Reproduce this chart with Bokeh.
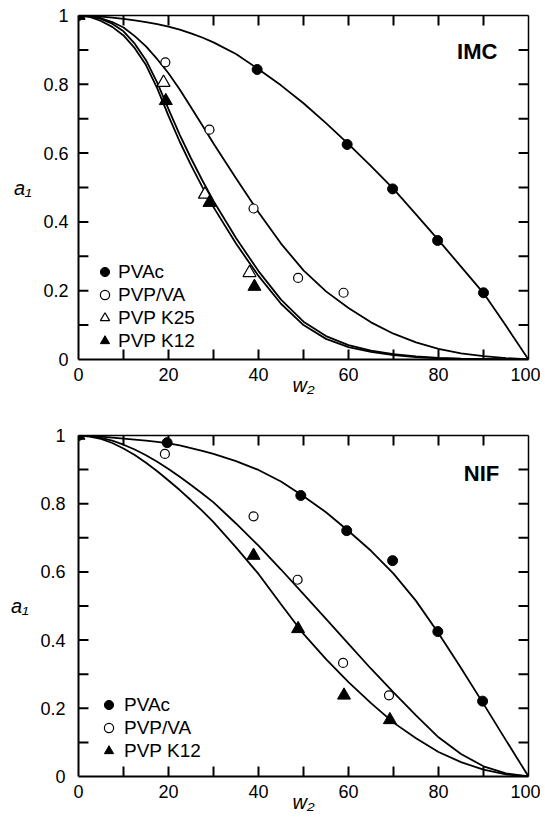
from bokeh.plotting import figure
from bokeh.models import (LinearAxis, SingleIntervalTicker, NumeralTickFormatter, Range1d,
                          Legend, LegendItem, Label, CustomJSTickFormatter)
from bokeh.layouts import column
from bokeh.embed import file_html
from bokeh.resources import INLINE

# ---------------- data ----------------
# fitted-curve grid (w2, %)
w2_grid = [0, 2.5, 5, 7.5, 10, 12.5, 15, 17.5, 20, 22.5, 25, 27.5, 30,
           35, 40, 45, 50, 55, 60, 65, 70, 75, 80, 85, 90, 95, 100]

# IMC panel: fitted curves
imc_pvac_fit = [1, 0.999, 0.997, 0.994, 0.99, 0.986, 0.981, 0.975, 0.968, 0.959, 0.948, 0.936, 0.922,
                0.888, 0.844, 0.797, 0.745, 0.687, 0.626, 0.562, 0.496, 0.422, 0.347, 0.27, 0.193,
                0.098, 0]
imc_pvpva_fit = [1, 0.998, 0.992, 0.981, 0.965, 0.94, 0.91, 0.873, 0.832, 0.785, 0.733, 0.681, 0.628,
                 0.527, 0.428, 0.337, 0.259, 0.198, 0.15, 0.108, 0.075, 0.05, 0.031, 0.018, 0.01,
                 0.004, 0]
imc_k25_fit = [1, 0.997, 0.99, 0.976, 0.954, 0.918, 0.87, 0.805, 0.728, 0.653, 0.585, 0.521, 0.461,
               0.353, 0.257, 0.174, 0.110, 0.068, 0.042, 0.026, 0.0155, 0.009, 0.005, 0.0025,
               0.0015, 0, 0]
imc_k12_fit = [1, 0.996, 0.984, 0.967, 0.942, 0.905, 0.856, 0.788, 0.708, 0.633, 0.565, 0.502, 0.443,
               0.337, 0.243, 0.162, 0.100, 0.060, 0.036, 0.022, 0.0125, 0.007, 0.003, 0.0015,
               0.0005, 0, 0]

# IMC panel: measured points
imc_pvac_w2 = [0, 39.7, 59.7, 69.8, 79.8, 90]
imc_pvac_a1 = [1, 0.843, 0.625, 0.496, 0.346, 0.194]
imc_pvpva_w2 = [0, 19.3, 29.1, 38.9, 48.8, 58.9]
imc_pvpva_a1 = [1, 0.864, 0.668, 0.439, 0.237, 0.194]
imc_k25_w2 = [0, 18.9, 28.1, 38.0]
imc_k25_a1 = [1, 0.805, 0.48, 0.252]
imc_k12_w2 = [0, 19.4, 29.1, 39.1]
imc_k12_a1 = [1, 0.752, 0.456, 0.212]

# NIF panel: fitted curves
nif_pvac_fit = [1, 0.999, 0.997, 0.994, 0.991, 0.988, 0.985, 0.981, 0.977, 0.971, 0.963, 0.955, 0.946,
                0.925, 0.899, 0.865, 0.822, 0.775, 0.72, 0.662, 0.595, 0.515, 0.42, 0.318, 0.213,
                0.106, 0]
nif_pvpva_fit = [1, 0.998, 0.993, 0.985, 0.973, 0.959, 0.942, 0.923, 0.902, 0.879, 0.855, 0.83, 0.804,
                 0.742, 0.677, 0.607, 0.535, 0.462, 0.389, 0.316, 0.247, 0.179, 0.115, 0.066, 0.03,
                 0.009, 0]
nif_k12_fit = [1, 0.997, 0.99, 0.978, 0.962, 0.943, 0.92, 0.895, 0.868, 0.84, 0.81, 0.779, 0.746,
               0.672, 0.594, 0.505, 0.418, 0.344, 0.277, 0.215, 0.158, 0.112, 0.072, 0.042, 0.02,
               0.006, 0]

# NIF panel: measured points
nif_pvac_w2 = [0, 19.7, 49.4, 59.6, 69.8, 79.85, 89.8]
nif_pvac_a1 = [1, 0.979, 0.824, 0.721, 0.633, 0.425, 0.221]
nif_pvpva_w2 = [0, 19.2, 38.9, 48.7, 58.8, 69.0]
nif_pvpva_a1 = [1, 0.946, 0.763, 0.577, 0.333, 0.238]
nif_k12_w2 = [0, 38.9, 48.8, 59.0, 69.2]
nif_k12_a1 = [1, 0.648, 0.433, 0.238, 0.166]

FONT = "Liberation Sans"
TICK_PX = 10


def plain_axis(ax):
    ax.major_tick_in = 0
    ax.major_tick_out = 0
    ax.minor_tick_in = 0
    ax.minor_tick_out = 0
    ax.axis_line_color = "black"


def make_panel(height, bl, br, bt, bb, title, title_pos, curves, series, legend_loc,
               legend_standoff, tick_standoff, width=540):
    p = figure(width=width, height=height, x_range=Range1d(0, 100), y_range=Range1d(0, 1),
               output_backend="svg", toolbar_location=None,
               min_border_left=bl, min_border_right=br, min_border_top=bt, min_border_bottom=bb)
    p.outline_line_color = None
    p.xgrid.visible = False
    p.ygrid.visible = False

    xa = p.xaxis[0]
    ya = p.yaxis[0]
    xa.ticker = SingleIntervalTicker(interval=20, num_minor_ticks=2)
    ya.ticker = SingleIntervalTicker(interval=0.2, num_minor_ticks=2)
    ya.formatter = NumeralTickFormatter(format="0.[0]")
    for ax in (xa, ya):
        plain_axis(ax)
        ax.axis_line_width = 2
        ax.major_label_text_font = FONT
        ax.major_label_text_font_size = "18px"
        ax.major_label_text_color = "black"
        ax.axis_label_text_font = FONT
        ax.axis_label_text_font_size = "20px"
        ax.axis_label_text_font_style = "italic"
        ax.axis_label_text_color = "black"
    xa.major_label_standoff = 8
    ya.major_label_standoff = tick_standoff
    xa.axis_label = "w\u2082"
    xa.axis_label_standoff = -10
    ya.axis_label = "a\u2081"
    ya.axis_label_orientation = "horizontal"
    ya.axis_label_standoff = 9

    # top and right frame lines (no labels)
    for loc in ("above", "right"):
        ax = LinearAxis(formatter=CustomJSTickFormatter(code="return ''"),
                        axis_line_width=1.5, major_label_standoff=0,
                        major_label_text_font_size="0px")
        plain_axis(ax)
        p.add_layout(ax, loc)

    # inward tick marks on all four sides (every 10 on x, every 0.1 on y)
    frame_w = width - bl - br
    frame_h = height - bt - bb
    dx = TICK_PX * 100.0 / frame_w
    dy = TICK_PX * 1.0 / frame_h
    xt = [10.0 * i for i in range(1, 10)]
    yt = [0.1 * i for i in range(1, 10)]
    n = len(xt)
    p.segment(x0=xt + xt, y0=[0.0] * n + [1.0] * n, x1=xt + xt, y1=[dy] * n + [1 - dy] * n,
              line_color="black", line_width=2)
    p.segment(x0=[0.0] * n + [100.0] * n, y0=yt + yt, x1=[dx] * n + [100 - dx] * n, y1=yt + yt,
              line_color="black", line_width=2)

    for ys in curves:
        p.line(w2_grid, ys, line_color="black", line_width=1.8)

    items = []
    for label, xs, ys, marker, filled, size in series:
        if filled:
            r = p.scatter(xs, ys, marker=marker, size=size, fill_color="black",
                          line_color="black", line_width=1)
        else:
            r = p.scatter(xs, ys, marker=marker, size=size, fill_color="white",
                          line_color="black", line_width=1.2)
        items.append(LegendItem(label=label, renderers=[r]))

    legend = Legend(items=items, location=legend_loc, orientation="vertical",
                    glyph_width=23, glyph_height=23, label_height=20, label_standoff=legend_standoff,
                    spacing=0, padding=0, margin=0, border_line_color=None,
                    background_fill_alpha=0, label_text_font=FONT,
                    label_text_font_size="19px", label_text_color="black")
    p.add_layout(legend)

    p.add_layout(Label(x=title_pos[0], y=title_pos[1], text=title, text_align="right",
                       text_baseline="alphabetic", text_font=FONT, text_font_size="22px",
                       text_font_style="bold", text_color="black"))
    return p


p1 = make_panel(
    height=408, bl=74, br=12, bt=15, bb=49, title="IMC", title_pos=(93.1, 0.895),
    curves=[imc_pvac_fit, imc_pvpva_fit, imc_k25_fit, imc_k12_fit],
    series=[("PVAc", imc_pvac_w2, imc_pvac_a1, "circle", True, 10),
            ("PVP/VA", imc_pvpva_w2, imc_pvpva_a1, "circle", False, 9),
            ("PVP K25", imc_k25_w2, imc_k25_a1, "triangle", False, 13),
            ("PVP K12", imc_k12_w2, imc_k12_a1, "triangle", True, 13)],
    legend_loc=(15, 7), legend_standoff=2, tick_standoff=10)

p2 = make_panel(
    height=408, bl=78, br=11, bt=27, bb=40, title="NIF", title_pos=(93.5, 0.889),
    curves=[nif_pvac_fit, nif_pvpva_fit, nif_k12_fit],
    series=[("PVAc", nif_pvac_w2, nif_pvac_a1, "circle", True, 10),
            ("PVP/VA", nif_pvpva_w2, nif_pvpva_a1, "circle", False, 9),
            ("PVP K12", nif_k12_w2, nif_k12_a1, "triangle", True, 13)],
    legend_loc=(19, 14), legend_standoff=4, tick_standoff=13)

layout = column(p1, p2)
open("out.html", "w").write(file_html(layout, INLINE))
